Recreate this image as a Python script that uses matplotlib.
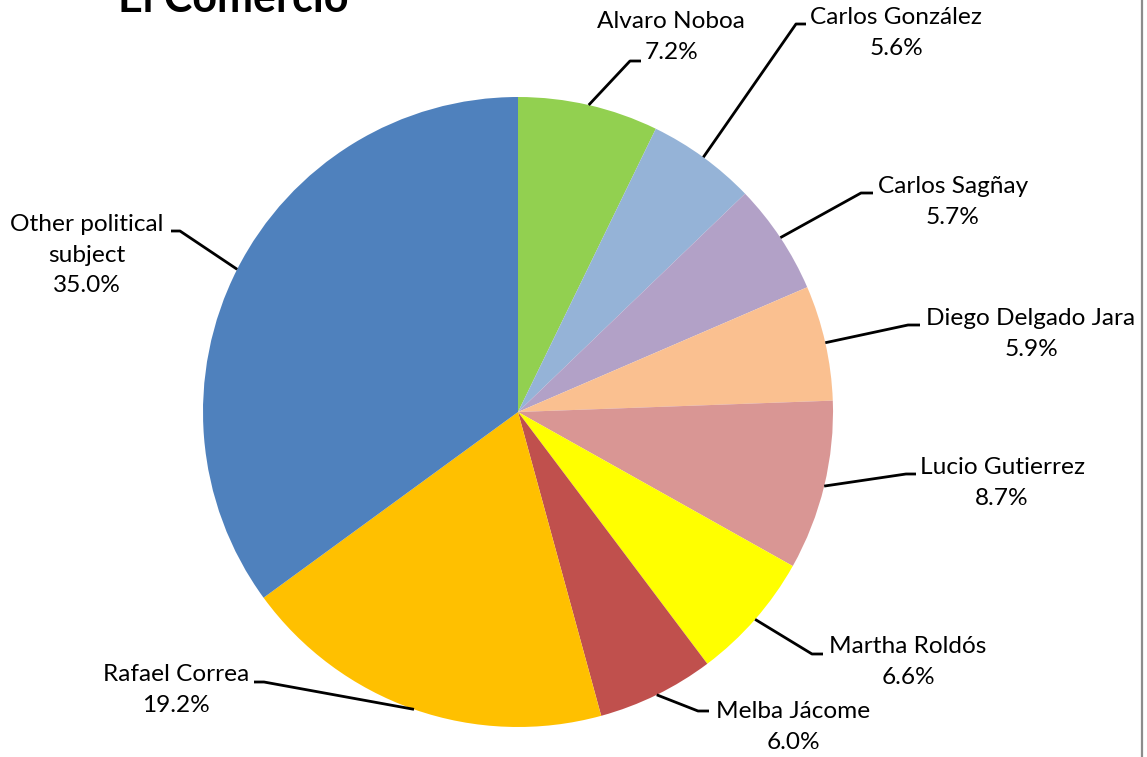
import numpy as np
import matplotlib
matplotlib.use("Agg")
import matplotlib.pyplot as plt

# ---- data ----
candidates = ["Alvaro Noboa", "Carlos González", "Carlos Sagñay", "Diego Delgado Jara",
              "Lucio Gutierrez", "Martha Roldós", "Melba Jácome", "Rafael Correa",
              "Other political\nsubject"]
shares = [7.2, 5.6, 5.7, 5.9, 8.7, 6.6, 6.0, 19.2, 35.0]
title = "El Comercio"

# ---- style ----
colors = ["#92D050", "#95B3D7", "#B2A1C7", "#FAC090", "#D99694",
          "#FFFF00", "#C0504D", "#FFC000", "#4F81BD"]
W, H = 1147, 757
# label layout in pixel space (image coords, y down): elbow x, elbow y, line end x, text center x, text center y
label_layout = [
    (630, 61, 641, 671, 37),
    (796, 24, 806, 896, 33),
    (861, 193, 873, 953, 202),
    (908, 325, 920, 1031, 334),
    (906, 474, 916, 1002, 483),
    (812, 654, 823, 908, 662),
    (698, 711, 709, 793, 727),
    (264, 682, 254, 176, 690),
    (180, 231, 171, 87, 255),
]
FONT = ["Lato", "DejaVu Sans"]

fig = plt.figure(figsize=(W / 100, H / 100), dpi=100)
ax = fig.add_axes([0, 0, 1, 1])

cx, cy, R = 518, H - 412, 315
wedges, _ = ax.pie(shares, colors=colors, startangle=90, counterclock=False,
                   center=(cx, cy), radius=R, frame=True,
                   wedgeprops=dict(linewidth=0))
ax.set_xlim(0, W)
ax.set_ylim(0, H)
ax.set_aspect("equal")
ax.axis("off")

for w, lab, val, lay in zip(wedges, candidates, shares, label_layout):
    ang = np.deg2rad((w.theta1 + w.theta2) / 2)
    sx, sy = cx + R * np.cos(ang), cy + R * np.sin(ang)
    ex, ey, lx, tx, ty = lay
    ax.plot([sx, ex, lx], [sy, H - ey, H - ey], color="black", lw=2.0,
            solid_capstyle="butt", zorder=3)
    ax.text(tx, H - ty, f"{lab}\n{val:.1f}%", ha="center", va="center",
            multialignment="center", fontsize=17.6, linespacing=1.54,
            family=FONT, color="black")

ax.text(118, H - 12, title, ha="left", va="baseline", fontsize=31,
        fontweight="bold", family=FONT, color="black")

# right border line
fig.add_artist(plt.Line2D([1142 / W, 1142 / W], [0, 1], transform=fig.transFigure,
                          color="#8c8c8c", lw=1.6))

fig.savefig("out.png", dpi=100)
